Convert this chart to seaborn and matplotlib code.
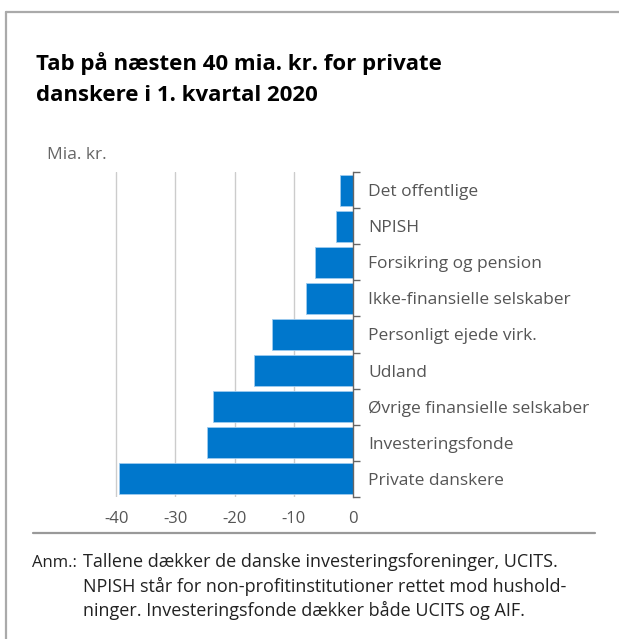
import matplotlib
matplotlib.use("Agg")
import matplotlib.pyplot as plt
import seaborn as sns
import pandas as pd
from matplotlib.lines import Line2D
from matplotlib.ticker import FixedLocator

# Data (mia. kr.)
sectors = [
    "Det offentlige",
    "NPISH",
    "Forsikring og pension",
    "Ikke-finansielle selskaber",
    "Personligt ejede virk.",
    "Udland",
    "Øvrige finansielle selskaber",
    "Investeringsfonde",
    "Private danskere",
]
values = [-2.2, -2.9, -6.4, -8.0, -13.7, -16.8, -23.6, -24.7, -39.5]
x_ticks = [-40, -30, -20, -10, 0]

title_lines = ["Tab på næsten 40 mia. kr. for private", "danskere i 1. kvartal 2020"]
unit_label = "Mia. kr."
note_head = "Anm.:"
note_lines = ["Tallene dækker de danske investeringsforeninger, UCITS.",
              "NPISH står for non-profitinstitutioner rettet mod hushold-",
              "ninger. Investeringsfonde dækker både UCITS og AIF."]

df = pd.DataFrame({"sector": sectors, "value": values})

sns.set_theme(style="white")
plt.rcParams["font.family"] = ["Open Sans", "DejaVu Sans"]

W, H = 619, 639
fig = plt.figure(figsize=(W / 100, H / 100), dpi=100)
fig.patch.set_facecolor("white")

# axes placed in pixel terms
x_right, y_top, y_bot = 353, 172.3, 496.7
xmin = -42
px_per_unit = (353 - 116.3) / 40
x_left = x_right + xmin * px_per_unit
ax = fig.add_axes([x_left / W, 1 - y_bot / H, (x_right - x_left) / W, (y_bot - y_top) / H])

sns.barplot(data=df, x="value", y="sector", orient="h", color="#0077cc",
            saturation=1, width=0.85, edgecolor="#9ecbef", linewidth=0.6, ax=ax)

ax.set_xlim(xmin, 0)
ax.set_ylim(len(sectors) - 0.5, -0.5)
ax.set_xlabel("")
ax.set_ylabel("")

for s in ["top", "left", "bottom"]:
    ax.spines[s].set_visible(False)
ax.spines["right"].set_color("#666666")
ax.spines["right"].set_linewidth(1.0)

ax.set_xticks(x_ticks)
ax.set_xticklabels([str(t) for t in x_ticks])
ax.tick_params(axis="x", length=0, pad=10, labelsize=12, labelcolor="#555555")
for t in x_ticks[:-1]:
    ax.axvline(t, color="#cccccc", linewidth=1, zorder=0)

ax.yaxis.tick_right()
ax.yaxis.set_minor_locator(FixedLocator([i - 0.5 for i in range(len(sectors) + 1)]))
ax.tick_params(axis="y", which="major", length=0, pad=11, labelsize=12.5, labelcolor="#555555")
ax.tick_params(axis="y", which="minor", right=True, length=5, width=1, color="#666666")

# text
for i, line in enumerate(title_lines):
    fig.text(36 / W, 1 - (70 + i * 31) / H, line, ha="left", va="baseline",
             fontsize=16, fontweight="bold", color="#000000")
fig.text(47 / W, 1 - 155 / H, unit_label, ha="left", va="center", fontsize=12.5,
         color="#666666")
fig.text(32 / W, 1 - 567 / H, note_head, ha="left", va="baseline", fontsize=12, color="#222222")
for i, line in enumerate(note_lines):
    fig.text(83 / W, 1 - (567 + i * 24.5) / H, line, ha="left", va="baseline",
             fontsize=13, color="#222222")

# frame and separator
fig.add_artist(Line2D([6 / W, 1], [1 - 12 / H, 1 - 12 / H], color="#aaaaaa", linewidth=1.6))
fig.add_artist(Line2D([6 / W, 6 / W], [0, 1 - 12 / H], color="#aaaaaa", linewidth=1.6))
fig.add_artist(Line2D([33 / W, 595 / W], [1 - 533 / H, 1 - 533 / H], color="#999999", linewidth=1.6))

fig.savefig("out.png", dpi=100)
